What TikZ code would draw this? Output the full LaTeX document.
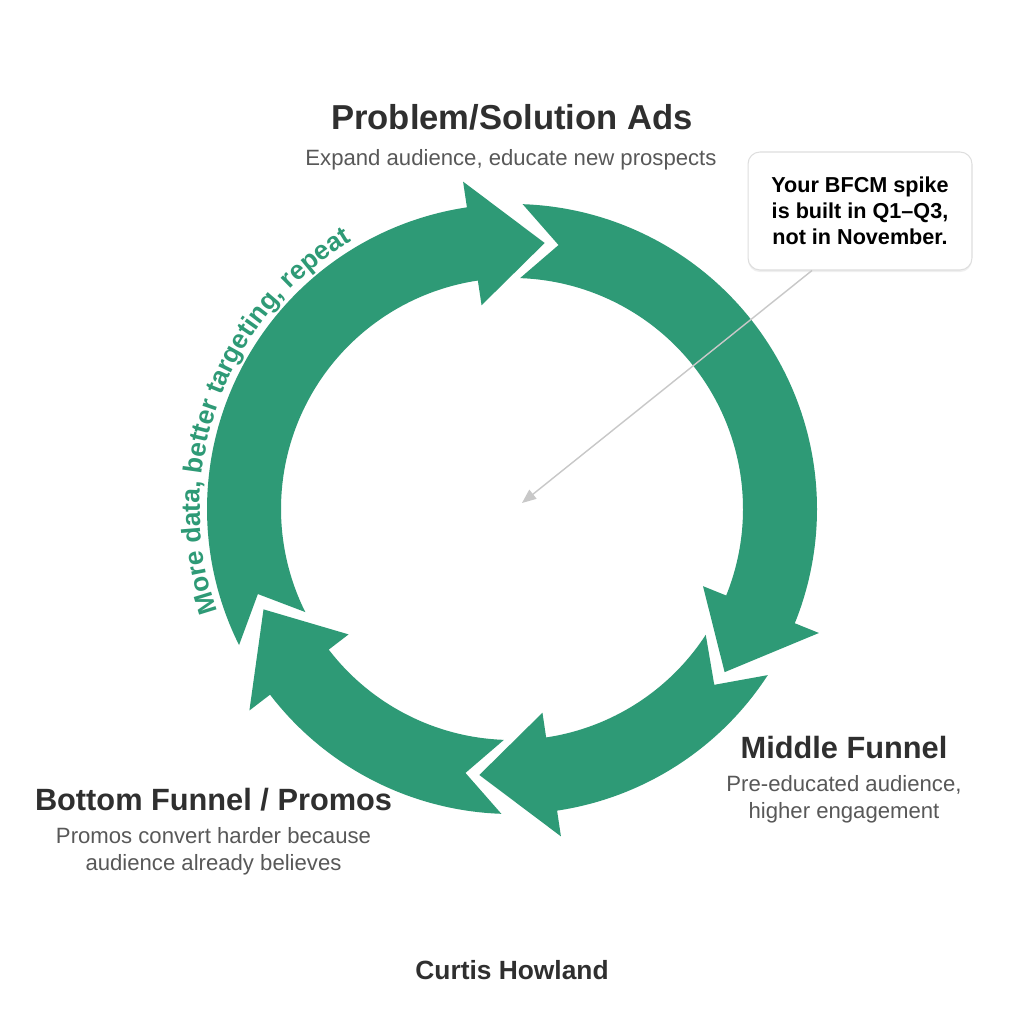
\documentclass[tikz,border=0pt]{standalone}
\usepackage{fontspec}
\setmainfont{Liberation Sans}
\usepackage{xcolor}
\usetikzlibrary{arrows.meta,calc,shadows,decorations.text}
\definecolor{ringgreen}{RGB}{46,154,118}
\definecolor{titlegray}{RGB}{47,47,47}
\definecolor{notegray}{RGB}{88,88,88}
\definecolor{framegray}{RGB}{222,222,222}
\definecolor{pointergray}{RGB}{200,200,200}
\tikzset{
	ringarrow/.style={fill=ringgreen, draw=none},
	stagetitle/.style={anchor=base, text=titlegray, font=\fontsize{17.5}{21}\selectfont\bfseries},
	stagenote/.style={anchor=base, text=notegray, font=\fontsize{12.6}{15}\selectfont},
	calloutbox/.style={draw=framegray, fill=white, rounded corners=6.8pt, line width=0.6pt,
			minimum width=4.48cm, minimum height=2.36cm, align=center,
			font=\fontsize{12.3}{14.9}\selectfont\bfseries,
			drop shadow={shadow xshift=0pt, shadow yshift=-1.2pt, opacity=0.12}},
	pointer/.style={draw=pointergray, line width=0.8pt, -{Triangle[length=8pt,width=6.5pt]}}
}

\begin{document}
\begin{tikzpicture}[x=0.02cm, y=0.02cm]
        \fill[white] (0,0) rectangle (1024,1024);
        \useasboundingbox (0,0) rectangle (1024,1024);
        \coordinate (hub) at (512, 515);
        \coordinate (aim) at (522, 521);
        \begin{scope}[shift={(hub)}]
            \fill[ringarrow] (206.5:305) arc[start angle=206.5, end angle=98.5, radius=305] -- (98.5:331) -- (83:268) -- (98.5:206) -- (98.5:231) arc[start angle=98.5, end angle=206.5, radius=231] -- (198.5:268) -- cycle;
            \fill[ringarrow] (88:305) arc[start angle=88, end angle=-22, radius=305] -- (-22:331) -- (-37.5:268) -- (-22:206) -- (-22:231) arc[start angle=-22, end angle=88, radius=231] -- (80:268) -- cycle;
            \fill[ringarrow] (327:305) arc[start angle=327, end angle=278.5, radius=305] -- (278.5:331) -- (263:268) -- (278.5:206) -- (278.5:231) arc[start angle=278.5, end angle=327, radius=231] -- (319:268) -- cycle;
            \fill[ringarrow] (268:305) arc[start angle=268, end angle=217.5, radius=305] -- (217.5:331) -- (202:268) -- (217.5:206) -- (217.5:231) arc[start angle=217.5, end angle=268, radius=231] -- (260:268) -- cycle;
            \path[decorate, decoration={text along path, text align=center, text color=ringgreen,
                text={|\fontsize{15}{18}\selectfont\bfseries|More data, better targeting, repeat}}]
                (201:312) arc[start angle=201, end angle=119, radius=312];
        \end{scope}
        \node[stagetitle, font=\fontsize{19.7}{23}\selectfont\bfseries] (top_title) at (512, 894) {Problem/Solution Ads};
        \node[stagenote] (top_note) at (511, 858) {Expand audience, educate new prospects};
        \node[stagetitle] (mid_title) at (844, 265) {Middle Funnel};
        \node[stagenote] (mid_note_a) at (844, 232) {Pre-educated audience,};
        \node[stagenote] (mid_note_b) at (844, 205) {higher engagement};
        \node[stagetitle] (bot_title) at (213.5, 213) {Bottom Funnel / Promos};
        \node[stagenote] (bot_note_a) at (213.5, 180) {Promos convert harder because};
        \node[stagenote] (bot_note_b) at (213.5, 153) {audience already believes};
        \node[stagetitle, font=\fontsize{15}{18}\selectfont\bfseries] (author) at (512, 44) {Curtis Howland};
        \node[calloutbox] (callout) at (860, 813) {Your BFCM spike\\is built in Q1--Q3,\\not in November.};
        \draw[pointer] ([xshift=-0.96cm]callout.south) -- (aim);
    \end{tikzpicture}
\end{document}
